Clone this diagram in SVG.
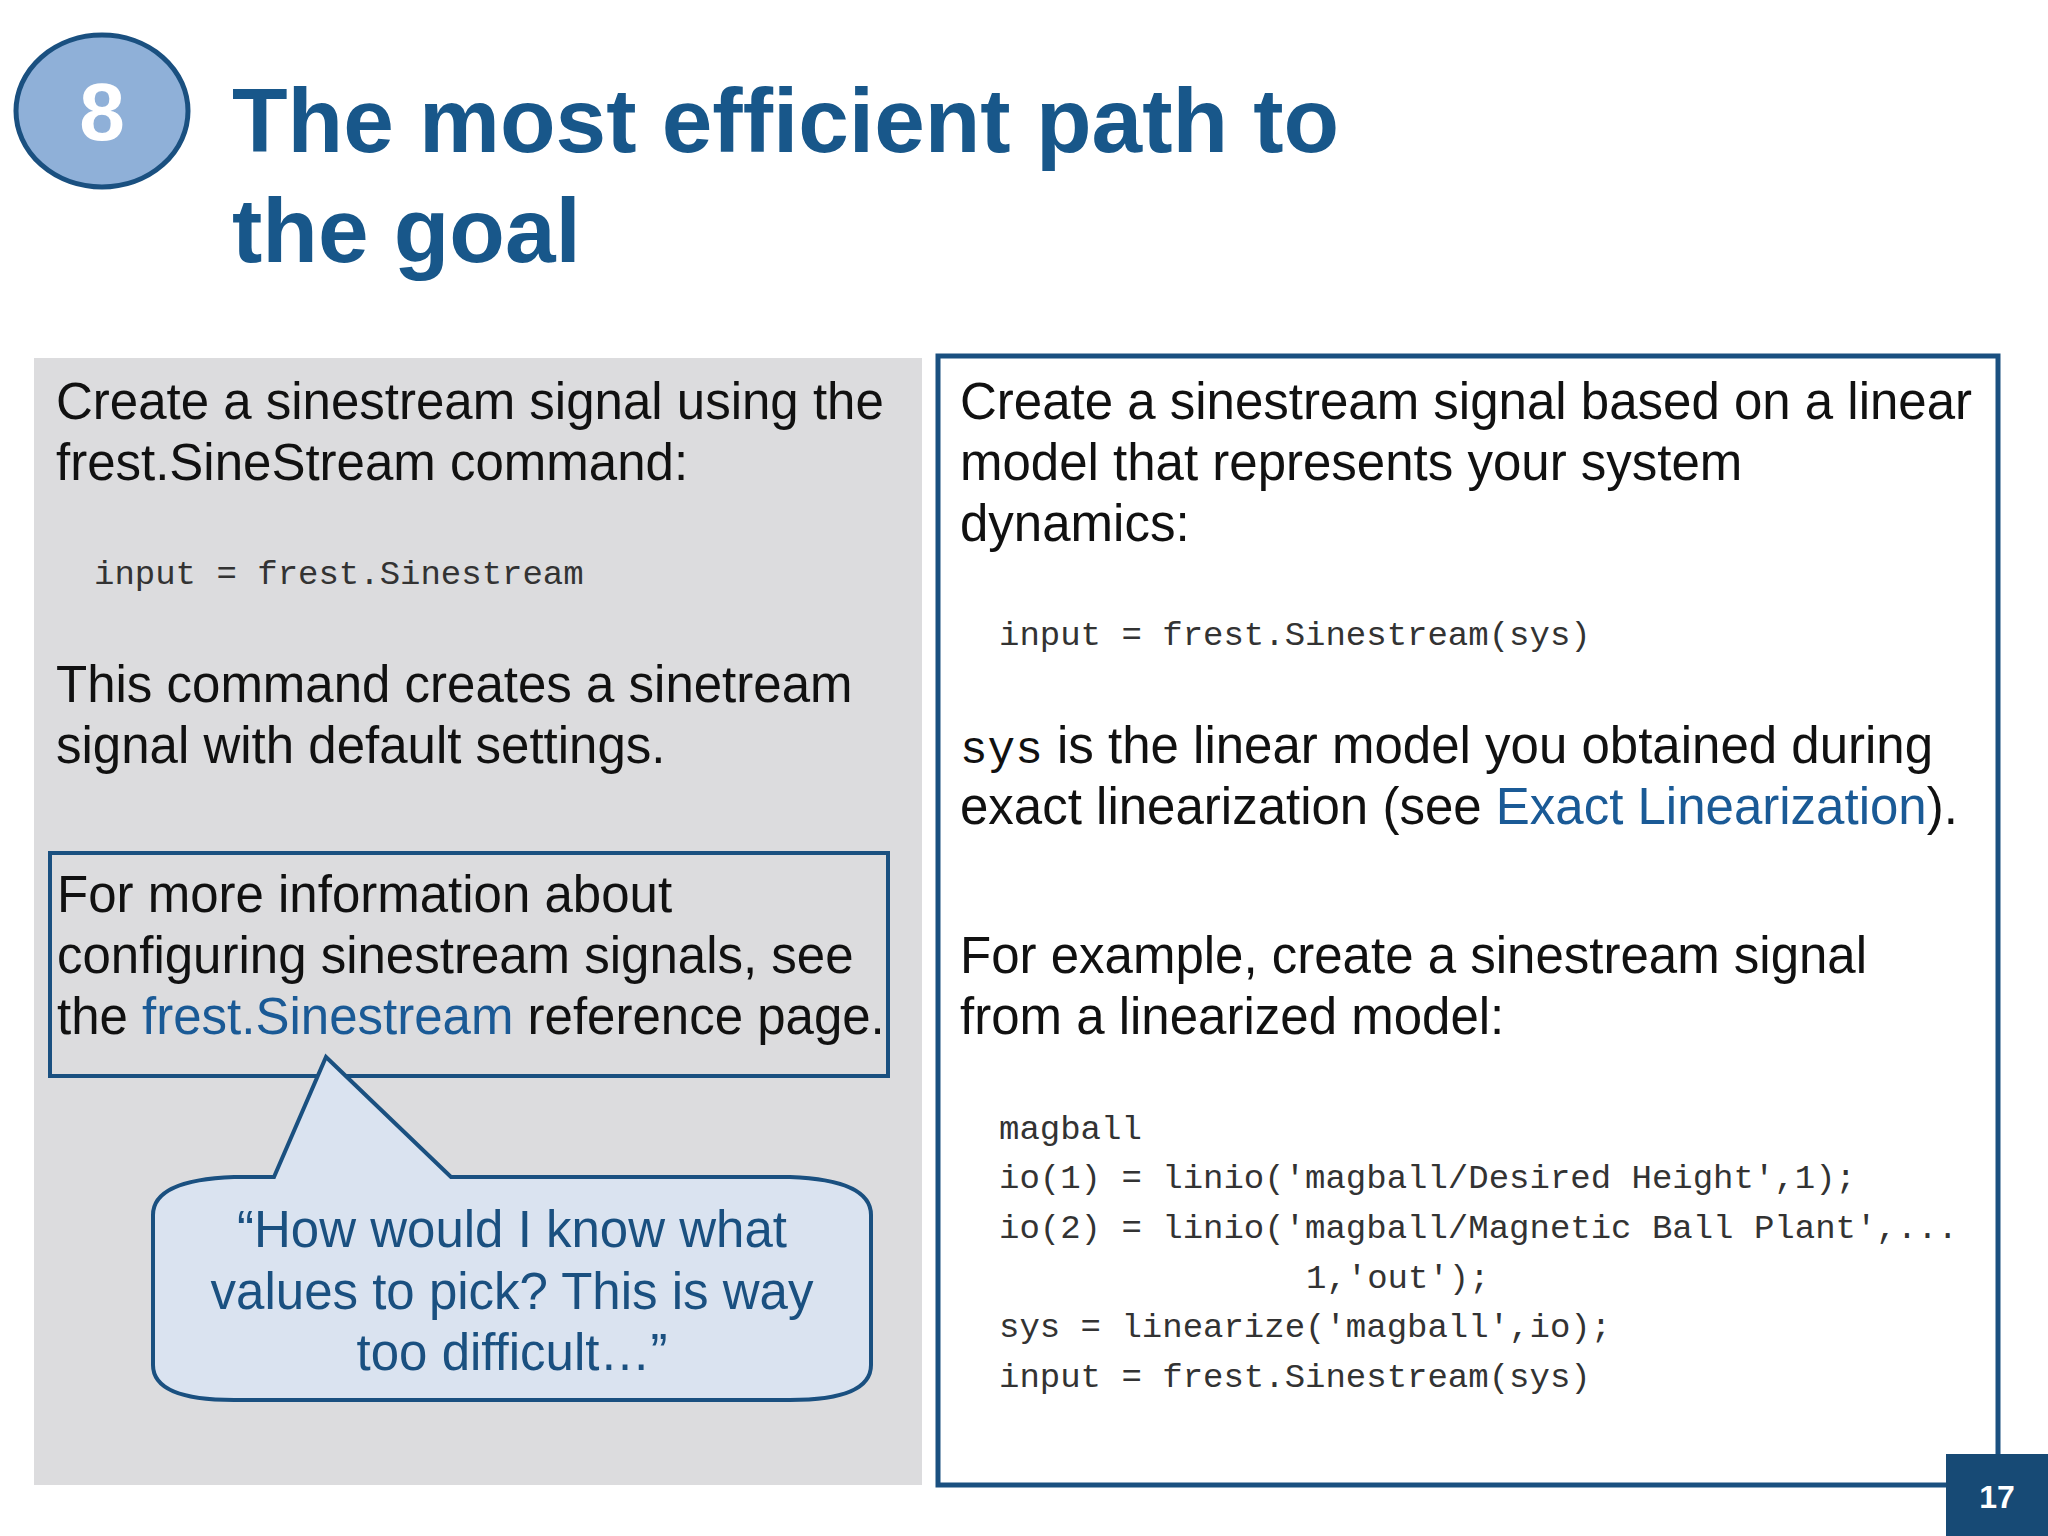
<svg xmlns="http://www.w3.org/2000/svg" width="2048" height="1536" viewBox="0 0 2048 1536">
<style>
.t{font-family:"Liberation Sans",Arial,sans-serif;font-size:51px;fill:#111}
.m{font-family:"Liberation Mono","Courier New",monospace;font-size:34px;fill:#333}
.l{fill:#1a5a96}
.title{font-family:"Liberation Sans",Arial,sans-serif;font-weight:bold;font-size:91px;fill:#18578a}
</style>
<rect width="2048" height="1536" fill="#fff"/>
<g id="badge">
<ellipse cx="102" cy="111" rx="86" ry="76" fill="#8fb0d8" stroke="#1a5080" stroke-width="5"/>
<text x="102" y="140" text-anchor="middle" font-family="Liberation Sans,Arial,sans-serif" font-weight="bold" font-size="82" fill="#fff">8</text>
</g>
<g id="title">
<text class="title" x="232" y="152">The most efficient path to</text>
<text class="title" x="232" y="262">the goal</text>
</g>
<g id="left-panel">
<rect x="34" y="358" width="888" height="1127" fill="#dcdcde"/>
<text class="t" x="56" y="419">Create a sinestream signal using the</text>
<text class="t" x="56" y="480">frest.SineStream command:</text>
<text class="m" x="94" y="584" xml:space="preserve">input = frest.Sinestream</text>
<text class="t" x="56" y="702">This command creates a sinetream</text>
<text class="t" x="56" y="763">signal with default settings.</text>
</g>
<g id="info-box">
<rect x="50" y="853" width="838" height="223" fill="none" stroke="#1a5080" stroke-width="4"/>
<text class="t" x="57" y="912">For more information about</text>
<text class="t" x="57" y="973">configuring sinestream signals, see</text>
<text class="t" x="57" y="1034">the <tspan class="l">frest.Sinestream</tspan> reference page.</text>
</g>
<g id="callout">
<path d="M274,1177 L326,1057 L451,1177 L790,1177 Q871,1180 871,1215 L871,1365 Q871,1400 790,1400 L234,1400 Q153,1400 153,1365 L153,1215 Q153,1180 234,1177 Z" fill="#dae3f0" stroke="#1a5080" stroke-width="4"/>
<g font-family="Liberation Sans,Arial,sans-serif" font-size="51" fill="#1a5080" text-anchor="middle">
<text x="512" y="1247">“How would I know what</text>
<text x="512" y="1309">values to pick? This is way</text>
<text x="512" y="1370">too difficult…”</text>
</g>
</g>
<g id="right-panel">
<rect x="938" y="356" width="1060" height="1129" fill="none" stroke="#1a5080" stroke-width="5"/>
<text class="t" x="960" y="419">Create a sinestream signal based on a linear</text>
<text class="t" x="960" y="480">model that represents your system</text>
<text class="t" x="960" y="541">dynamics:</text>
<text class="m" x="999" y="645" xml:space="preserve">input = frest.Sinestream(sys)</text>
<text class="t" x="960" y="763"><tspan font-family="Liberation Mono,monospace" font-size="46">sys</tspan> is the linear model you obtained during</text>
<text class="t" x="960" y="824">exact linearization (see <tspan class="l">Exact Linearization</tspan>).</text>
<text class="t" x="960" y="973">For example, create a sinestream signal</text>
<text class="t" x="960" y="1034">from a linearized model:</text>
<text class="m" x="999" y="1139">magball</text>
<text class="m" x="999" y="1188" xml:space="preserve">io(1) = linio('magball/Desired Height',1);</text>
<text class="m" x="999" y="1238" xml:space="preserve">io(2) = linio('magball/Magnetic Ball Plant',...</text>
<text class="m" x="1306" y="1288">1,'out');</text>
<text class="m" x="999" y="1337" xml:space="preserve">sys = linearize('magball',io);</text>
<text class="m" x="999" y="1387" xml:space="preserve">input = frest.Sinestream(sys)</text>
</g>
<g id="page-number">
<rect x="1946" y="1454" width="102" height="82" fill="#174a75"/>
<text x="1997" y="1508" text-anchor="middle" font-family="Liberation Sans,Arial,sans-serif" font-weight="bold" font-size="32" fill="#fff">17</text>
</g>
</svg>
